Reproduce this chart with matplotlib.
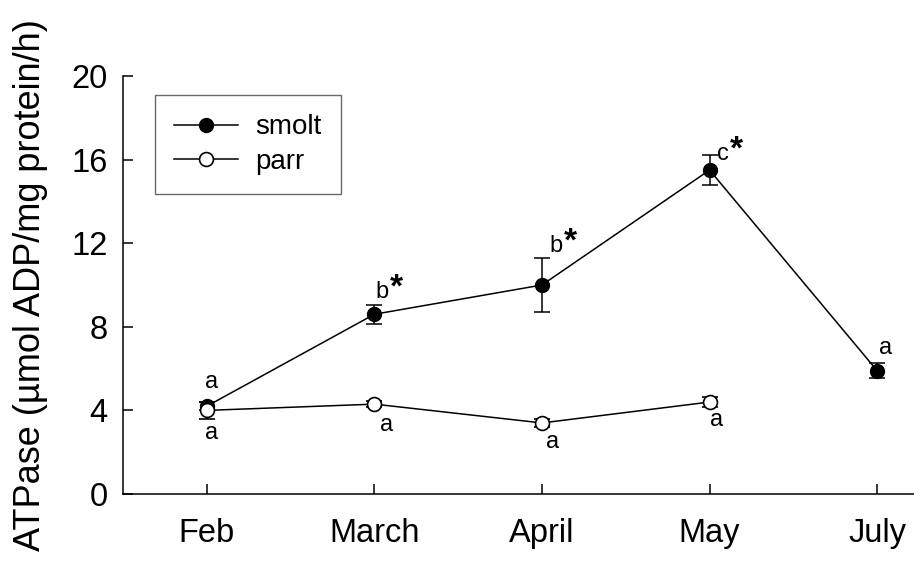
import matplotlib
matplotlib.use("Agg")
import matplotlib.pyplot as plt
from matplotlib.lines import Line2D

plt.rcParams['font.family'] = ['Liberation Sans', 'DejaVu Sans']

months = ["Feb", "March", "April", "May", "July"]
smolt_x = [1, 2, 3, 4, 5]
smolt = [4.2, 8.6, 10.0, 15.5, 5.9]
smolt_err = [0.2, 0.45, 1.3, 0.72, 0.35]
parr_x = [1, 2, 3, 4]
parr = [4.0, 4.3, 3.4, 4.4]
parr_err = [0.4, 0.15, 0.2, 0.25]

smolt_letters = ["a", "b", "b", "c", "a"]
smolt_stars = [False, True, True, True, False]
parr_letters = ["a", "a", "a", "a"]

# label offsets in pixels (style only)
smolt_off = [(5, 24), (8, 22), (14, 39), (13, 16), (8, 23)]
parr_off = [(5, -23), (12, -21), (11, -19), (7, -18)]

fig = plt.figure(figsize=(9.14, 5.61), dpi=100)
ax = fig.add_axes([123/914, 1-494/561, 1-123/914, (494-76)/561])

ax.errorbar(smolt_x, smolt, yerr=smolt_err, color='black', lw=1.1,
            marker='o', ms=10, mfc='black', mec='black', capsize=6,
            elinewidth=1.1, capthick=1.1, zorder=3)
ax.errorbar(parr_x, parr, yerr=parr_err, color='black', lw=1.1,
            marker='o', ms=10, mfc='white', mec='black', mew=1.2, capsize=6,
            elinewidth=1.1, capthick=1.1, zorder=4)

for x, y, l, s, off in zip(smolt_x, smolt, smolt_letters, smolt_stars, smolt_off):
    ax.annotate(l, (x, y), xytext=off, textcoords='offset pixels',
                ha='center', va='center', fontsize=17)
    if s:
        ax.annotate("*", (x, y), xytext=(off[0] + 14, off[1] + 4),
                    textcoords='offset pixels', ha='center', va='center',
                    fontsize=24, fontweight='bold')
for x, y, l, off in zip(parr_x, parr, parr_letters, parr_off):
    ax.annotate(l, (x, y), xytext=off, textcoords='offset pixels',
                ha='center', va='center', fontsize=17)

ax.set_xlim(0.5, 5.22)
ax.set_ylim(0, 20)
ax.set_yticks([0, 4, 8, 12, 16, 20])
ax.set_xticks(smolt_x)
ax.set_xticklabels(months)
ax.tick_params(direction='in', length=7, width=1.1, labelsize=23.5)
ax.tick_params(axis='y', pad=11)
ax.tick_params(axis='x', pad=17)
for sp in ['top', 'right']:
    ax.spines[sp].set_visible(False)
for sp in ['left', 'bottom']:
    ax.spines[sp].set_linewidth(1.1)

ax.set_ylabel("ATPase (\u00b5mol ADP/mg protein/h)", fontsize=26)
ax.yaxis.set_label_coords((48-123)/791, 0.5)

handles = [
    Line2D([], [], color='black', lw=1.1, marker='o', ms=10, mfc='black', mec='black'),
    Line2D([], [], color='black', lw=1.1, marker='o', ms=10, mfc='white', mec='black', mew=1.2),
]
leg = ax.legend(handles, ["smolt", "parr"], loc='upper left',
                bbox_to_anchor=((155-123)/791, (494-95)/418),
                fontsize=20, frameon=True, fancybox=False, edgecolor='#444444',
                handlelength=2.3, borderpad=0.7, labelspacing=0.3,
                handletextpad=0.6, borderaxespad=0)
leg.get_frame().set_linewidth(1.0)

fig.savefig("out.png", dpi=100)
